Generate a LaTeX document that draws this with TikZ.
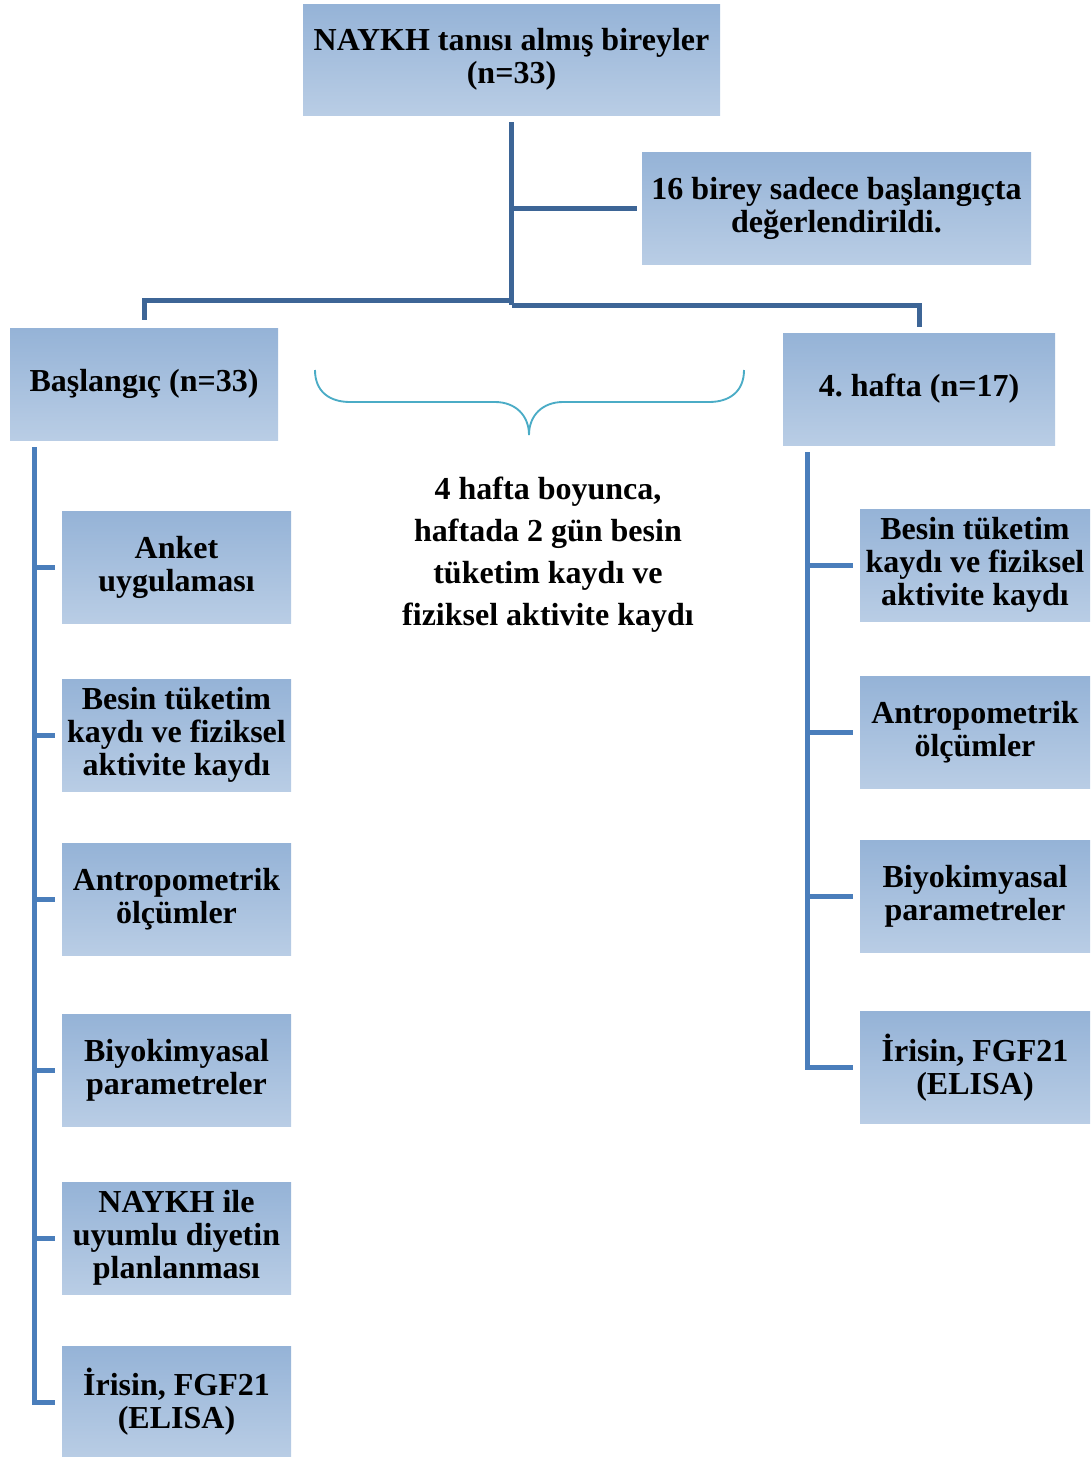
\documentclass[tikz,border=0pt]{standalone}
\usepackage{fontspec}
\setmainfont{Liberation Serif}
\frenchspacing
\usetikzlibrary{calc}
\definecolor{boxtop}{HTML}{95B3D7}
\definecolor{boxbot}{HTML}{B9CDE5}
\definecolor{treeline}{HTML}{3D6596}
\definecolor{sideline}{HTML}{4A7EBB}
\definecolor{bracecol}{HTML}{4BACC6}
\tikzset{
  stagebox/.style={inner sep=0pt, top color=boxtop, middle color=boxtop!70!boxbot, bottom color=boxbot,
    align=center, font=\bfseries\fontsize{24}{24.75}\selectfont},
  leftbox/.style={stagebox, minimum width=171.75pt, minimum height=84pt},
  rightbox/.style={stagebox, minimum width=172.5pt, minimum height=84pt},
  treelink/.style={line width=3.75pt, draw=treeline},
  sidelink/.style={line width=3.75pt, draw=sideline}
}

\begin{document}
\begin{tikzpicture}[x=0.75pt,y=-0.75pt]
	\useasboundingbox (0,0) rectangle (1092,1457);
	%%%%% START %%%%%
	
	\node[stagebox, minimum width=312.75pt, minimum height=83.25pt] (top) at (511.5,59.5) {NAYKH tanısı almış bireyler\\(n=33)};
	\node[stagebox, minimum width=291.75pt, minimum height=84pt] (note) at (836.5,208) {16 birey sadece başlangıçta\\değerlendirildi.};
	\node[stagebox, minimum width=201pt, minimum height=84pt] (bas) at (144,384) {Başlangıç (n=33)};
	\node[stagebox, minimum width=204pt, minimum height=84pt] (hafta) at (919,389) {4. hafta (n=17)};
	
	\node[leftbox] (L1) at (176.5,567) {Anket\\uygulaması};
	\node[leftbox] (L2) at (176.5,735) {Besin tüketim\\kaydı ve fiziksel\\aktivite kaydı};
	\node[leftbox] (L3) at (176.5,899) {Antropometrik\\ölçümler};
	\node[leftbox] (L4) at (176.5,1070.5) {Biyokimyasal\\parametreler};
	\node[leftbox] (L5) at (176.5,1238) {NAYKH ile\\uyumlu diyetin\\planlanması};
	\node[leftbox] (L6) at (176.5,1402) {İrisin, FGF21\\(ELISA)};
	
	\node[rightbox] (R1) at (975,565) {Besin tüketim\\kaydı ve fiziksel\\aktivite kaydı};
	\node[rightbox] (R2) at (975,732.5) {Antropometrik\\ölçümler};
	\node[rightbox] (R3) at (975,896.5) {Biyokimyasal\\parametreler};
	\node[rightbox] (R4) at (975,1067.5) {İrisin, FGF21\\(ELISA)};
	
	\node[font=\bfseries\fontsize{24}{31.5}\selectfont, align=center] (plan) at (548,555) {4 hafta boyunca,\\haftada 2 gün besin\\tüketim kaydı ve\\fiziksel aktivite kaydı};
	
	% tree under the top box
	\draw[treelink] ($(top.south)+(0,7)$) -- ($(top.south)+(0,190)$);
	\draw[treelink, shorten >=3.75pt] (top.south |- note.west) -- (note.west);
	\draw[treelink, shorten >=6pt] ($(top.south)+(0,185)$) -| (bas.north);
	\draw[treelink, shorten >=4.5pt] ($(top.south)+(0,190)$) -| (hafta.north);
	
	% left column
	\coordinate (lt) at ($(bas.south west)+(25,7)$);
	\draw[sidelink, shorten >=5.25pt] (lt) |- (L6.west);
	\foreach \n in {1,...,5}
		\draw[sidelink, shorten >=5.25pt] (lt |- L\n.west) -- (L\n.west);
	
	% right column
	\coordinate (rt) at ($(hafta.south west)+(25,7)$);
	\draw[sidelink, shorten >=5.25pt] (rt) |- (R4.west);
	\foreach \n in {1,...,3}
		\draw[sidelink, shorten >=5.25pt] (rt |- R\n.west) -- (R\n.west);
	
	% brace
	\draw[line width=1.4pt, color=bracecol] (315,370) .. controls (315,392) and (330,402) .. (350,402) -- (495,402) .. controls (515,402) and (529,415) .. (529,435);
	\draw[line width=1.4pt, color=bracecol] (744,370) .. controls (744,392) and (729,402) .. (709,402) -- (563,402) .. controls (543,402) and (529,415) .. (529,435);
	
	%%%%% END %%%%%
\end{tikzpicture}
\end{document}
